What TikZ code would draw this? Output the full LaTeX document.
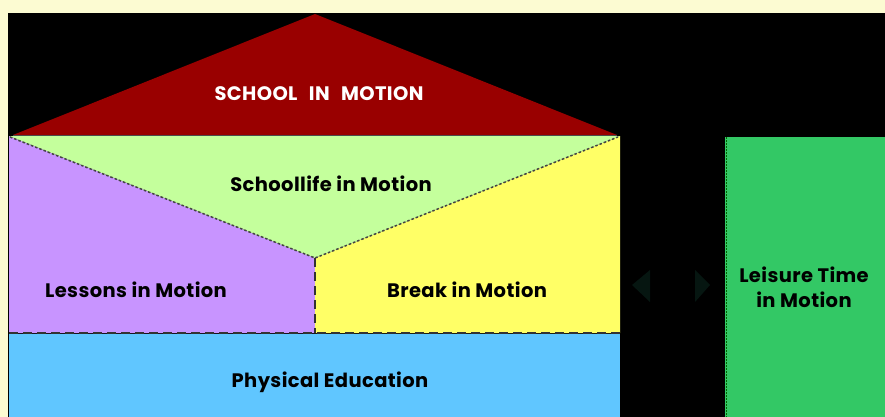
\documentclass[tikz,border=0pt]{standalone}
\usepackage{fontspec}
\setmainfont{Poppins}[LetterSpace=2]
\definecolor{paleY}{HTML}{FCFBD2}
\definecolor{roofred}{HTML}{990000}
\definecolor{lgreen}{HTML}{C4FF9C}
\definecolor{lpurple}{HTML}{C894FF}
\definecolor{lyellow}{HTML}{FFFF66}
\definecolor{lblue}{HTML}{60C6FF}
\definecolor{lgreen2}{HTML}{33C865}
\definecolor{arrowc}{HTML}{061611}
\definecolor{lineg}{HTML}{444444}
\begin{document}
\begin{tikzpicture}[x=1pt,y=-1pt,
  lbl/.style={font=\fontsize{19.5}{25}\selectfont\bfseries, text=black, align=center, inner sep=0pt},
  dotln/.style={draw=lineg, line width=1.5pt, dash pattern=on 2.5pt off 2pt},
  dashln/.style={draw=black!80, line width=1.7pt, dash pattern=on 9pt off 5pt}]
\useasboundingbox (0,0) rectangle (885,417);
\fill[paleY] (0,0) rectangle (885,417);
\fill[black] (8,13) rectangle (885,417);
% roof
\fill[roofred] (13,135) -- (315,14) -- (617,135) -- cycle;
% purple
\fill[lpurple] (9,136) -- (315,258) -- (315,333) -- (9,333) -- cycle;
% yellow
\fill[lyellow] (620,136) -- (315,258) -- (315,333) -- (620,333) -- cycle;
% green triangle
\fill[lgreen] (9,136) -- (620,136) -- (315,258) -- cycle;
\draw[black!70, line width=1pt] (13,135.5) -- (617,135.5);
\draw[dotln] (10,137) -- (315,258) -- (618,137);
\draw[dashln] (315,258) -- (315,333);
% blue
\fill[lblue] (9,334) rectangle (620,417);
\draw[dashln] (9,333) -- (620,333);
% leisure
\fill[lgreen2] (725,137) rectangle (885,417);
\draw[draw=green!40!black, line width=1pt, dash pattern=on 1.5pt off 1.5pt] (726,137) -- (726,417);
% arrows
\fill[arrowc] (632,285) -- (650,270) -- (650,302) -- cycle;
\fill[arrowc] (710,285) -- (695,270) -- (695,302) -- cycle;
% labels
\node[lbl, text=white] (school) at (319,94) {SCHOOL\hspace{0.35em} IN\hspace{0.35em} MOTION};
\node[lbl] (life) at (331,184) {Schoollife in Motion};
\node[lbl] (lessons) at (136,290) {Lessons in Motion};
\node[lbl] (break) at (467,290) {Break in Motion};
\node[lbl] (pe) at (330,382) {Physical Education};
\node[lbl] (leisure) at (804,287) {Leisure Time\\in Motion};
\end{tikzpicture}
\end{document}
